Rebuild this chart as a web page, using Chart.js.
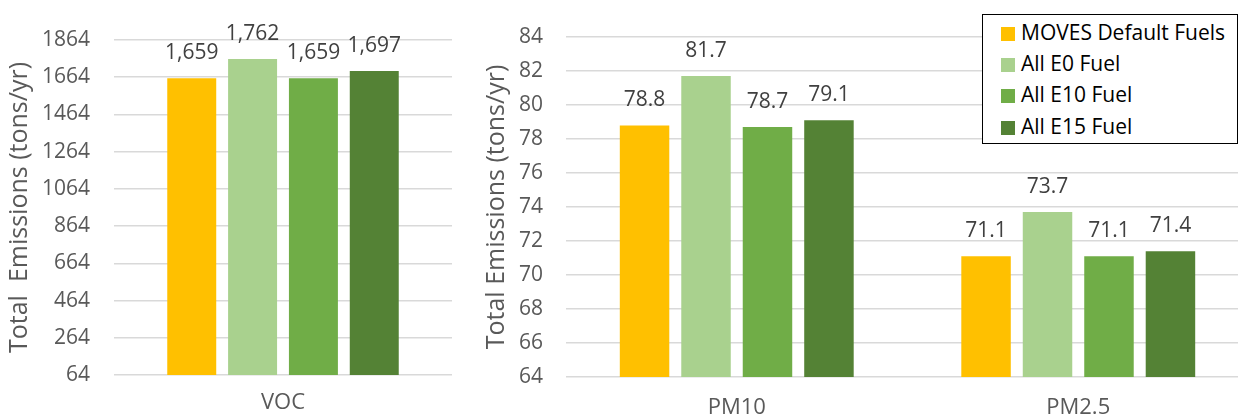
<!DOCTYPE html>
<html>
<head>
<meta charset="utf-8">
<script src="https://cdn.jsdelivr.net/npm/chart.js@4.4.1/dist/chart.umd.min.js"></script>
<style>
    body { margin: 0; background: #fff; }
    #wrap { position: relative; width: 1238px; height: 417px; overflow: hidden; background: #fff; }
    #vocChart { position: absolute; left: 0; top: 0; }
    #pmChart { position: absolute; left: 480px; top: 0; }
    #legend {
        position: absolute; left: 982px; top: 14px; width: 254px; height: 128px;
        border: 1px solid #000; background: #fff;
        font-family: 'Open Sans', sans-serif; font-size: 21px; color: #000;
    }
    .item { position: absolute; left: 18px; height: 26px; line-height: 26px; white-space: nowrap; }
    .swatch { display: inline-block; width: 14px; height: 14px; margin-right: 6px; vertical-align: -1px; }
</style>
</head>
<body>
<div id="wrap">
    <canvas id="vocChart" width="460" height="417"></canvas>
    <canvas id="pmChart" width="770" height="417"></canvas>
    <div id="legend"></div>
</div>
<script>
// Data
var seriesNames = ["MOVES Default Fuels", "All E0 Fuel", "All E10 Fuel", "All E15 Fuel"];
var seriesColors = ["#FFC000", "#A9D18E", "#70AD47", "#548235"];

var vocCategories = ["VOC"];
var vocValues = [[1659], [1762], [1659], [1697]];

var pmCategories = ["PM10", "PM2.5"];
var pmValues = [[78.8, 71.1], [81.7, 73.7], [78.7, 71.1], [79.1, 71.4]];

var vocTicks = { min: 64, max: 1864, step: 200 };
var pmTicks = { min: 64, max: 84, step: 2 };

Chart.defaults.font.family = "'Open Sans', sans-serif";
Chart.defaults.font.size = 21;
Chart.defaults.color = "#595959";

// Draws the value above each bar.
var barValuePlugin = {
    id: 'barValues',
    afterDatasetsDraw: function (chart, args, opts) {
        var ctx = chart.ctx;
        ctx.save();
        ctx.font = "21px 'Open Sans', sans-serif";
        ctx.fillStyle = "#404040";
        ctx.textAlign = "center";
        ctx.textBaseline = "middle";
        chart.data.datasets.forEach(function (ds, i) {
            var meta = chart.getDatasetMeta(i);
            meta.data.forEach(function (bar, j) {
                ctx.fillText(opts.format(ds.data[j]), bar.x, bar.y - 25);
            });
        });
        ctx.restore();
    }
};

function buildDatasets(values) {
    var datasets = [];
    for (var s = 0; s < seriesNames.length; ++s) {
        datasets.push({
            label: seriesNames[s],
            data: values[s],
            backgroundColor: seriesColors[s],
            barPercentage: 0.805,
            categoryPercentage: 0.72
        });
    }
    return datasets;
}

function drawBars(canvasId, categories, values, ticks, layout, format) {
    new Chart(document.getElementById(canvasId), {
        type: 'bar',
        data: { labels: categories, datasets: buildDatasets(values) },
        options: {
            responsive: false,
            animation: false,
            layout: { padding: layout.padding },
            plugins: {
                legend: { display: false },
                tooltip: { enabled: false },
                barValues: { format: format }
            },
            scales: {
                x: {
                    grid: { display: false, drawTicks: false },
                    border: { display: false },
                    ticks: { padding: layout.xPad, color: "#595959", font: { size: 22 } },
                    afterFit: function (scale) { scale.height = layout.xHeight; }
                },
                y: {
                    min: ticks.min,
                    max: ticks.max,
                    ticks: {
                        stepSize: ticks.step,
                        padding: layout.yPad,
                        color: "#595959",
                        callback: function (v) { return String(v); }
                    },
                    grid: { color: "#D9D9D9", lineWidth: 1.5, drawTicks: false },
                    border: { display: false },
                    title: {
                        display: true,
                        text: layout.title,
                        color: "#595959",
                        padding: { top: layout.titlePad, bottom: 0 },
                        font: { size: 25 }
                    },
                    afterFit: function (scale) { scale.width = layout.yWidth; }
                }
            }
        },
        plugins: [barValuePlugin]
    });
}

drawBars('vocChart', vocCategories, vocValues, vocTicks, {
    padding: { top: 40, right: 8, bottom: 0, left: 0 },
    xHeight: 42, xPad: 15, yWidth: 114, yPad: 24, titlePad: 5,
    title: "Total  Emissions (tons/yr)"
}, function (v) { return v.toLocaleString('en-US'); });

drawBars('pmChart', pmCategories, pmValues, pmTicks, {
    padding: { top: 37, right: 1, bottom: 0, left: 0 },
    xHeight: 40, xPad: 18, yWidth: 86, yPad: 23, titlePad: 2,
    title: "Total Emissions (tons/yr)"
}, function (v) { return v.toFixed(1); });

// Legend built from the series names and colours.
var legend = document.getElementById('legend');
var rowTops = [4, 35, 66, 98];
for (var s = 0; s < seriesNames.length; ++s) {
    var item = document.createElement('div');
    item.className = 'item';
    item.style.top = rowTops[s] + 'px';
    var sw = document.createElement('span');
    sw.className = 'swatch';
    sw.style.background = seriesColors[s];
    item.appendChild(sw);
    item.appendChild(document.createTextNode(seriesNames[s]));
    legend.appendChild(item);
}
</script>
</body>
</html>
